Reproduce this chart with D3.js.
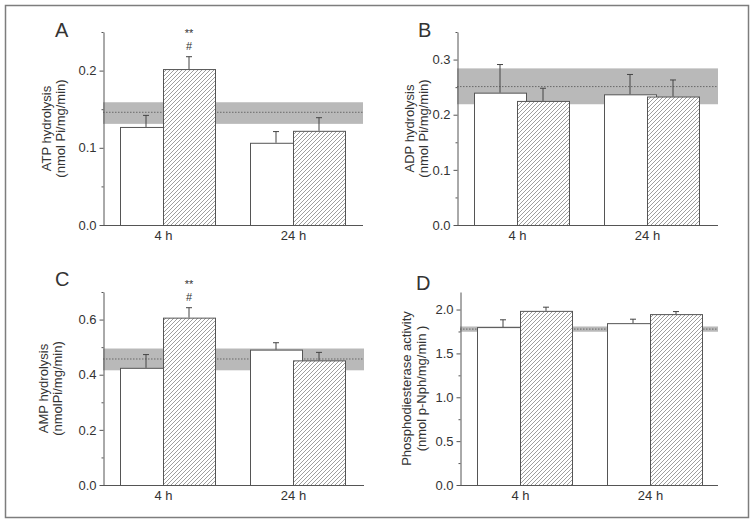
<!DOCTYPE html>
<html><head><meta charset="utf-8">
<script src="https://cdn.jsdelivr.net/npm/d3@7"></script>
<style>
html,body{margin:0;padding:0;background:#fff;}
text{font-family:"Liberation Sans",Arial,sans-serif;fill:#333;}
</style></head>
<body>
<svg id="chart" width="756" height="526"></svg>
<script>
// ---- data ----
const groups = ["4 h", "24 h"];

const atpControl = [0.127, 0.1065];
const atpControlErr = [0.015, 0.0145];
const atpTreated = [0.202, 0.122];
const atpTreatedErr = [0.016, 0.017];
const atpBasal = [0.131, 0.146, 0.159];   // low, mean, high

const adpControl = [0.240, 0.237];
const adpControlErr = [0.051, 0.036];
const adpTreated = [0.225, 0.233];
const adpTreatedErr = [0.023, 0.030];
const adpBasal = [0.219, 0.251, 0.284];

const ampControl = [0.425, 0.491];
const ampControlErr = [0.048, 0.025];
const ampTreated = [0.607, 0.452];
const ampTreatedErr = [0.036, 0.029];
const ampBasal = [0.416, 0.457, 0.495];

const pdeControl = [1.80, 1.845];
const pdeControlErr = [0.083, 0.045];
const pdeTreated = [1.985, 1.948];
const pdeTreatedErr = [0.042, 0.029];
const pdeBasal = [1.747, 1.777, 1.807];

const atpTicks = [0, 0.1, 0.2];
const adpTicks = [0, 0.1, 0.2, 0.3];
const ampTicks = [0, 0.2, 0.4, 0.6];
const pdeTicks = [0, 0.5, 1.0, 1.5, 2.0];

const atpMinor = [0.05, 0.15, 0.25];
const adpMinor = [0.05, 0.15, 0.25, 0.35];
const ampMinor = [0.1, 0.3, 0.5, 0.7];
const pdeMinor = [0.25, 0.75, 1.25, 1.75];

const atpSig = ["**", ""], atpSig2 = ["#", ""];
const ampSig = ["**", ""], ampSig2 = ["#", ""];
const noSig = ["", ""];

const panels = [
  {letter:"A", x0:103, xEnd:363, top:32, bottom:225, max:0.25,
   ctrl:atpControl, ctrlErr:atpControlErr, trt:atpTreated, trtErr:atpTreatedErr,
   basal:atpBasal, ticks:atpTicks, minor:atpMinor, sig:atpSig, sig2:atpSig2,
   label:["ATP hydrolysis","(nmol Pi/mg/min)"], lab1:51, lab2:65, letterX:55, letterY:37},
  {letter:"B", x0:457, xEnd:718, top:32, bottom:225, max:0.35,
   ctrl:adpControl, ctrlErr:adpControlErr, trt:adpTreated, trtErr:adpTreatedErr,
   basal:adpBasal, ticks:adpTicks, minor:adpMinor, sig:noSig, sig2:noSig,
   label:["ADP hydrolysis","(nmol Pi/mg/min)"], lab1:414, lab2:428, letterX:418, letterY:37},
  {letter:"C", x0:103, xEnd:364, top:292, bottom:485, max:0.70,
   ctrl:ampControl, ctrlErr:ampControlErr, trt:ampTreated, trtErr:ampTreatedErr,
   basal:ampBasal, ticks:ampTicks, minor:ampMinor, sig:ampSig, sig2:ampSig2,
   label:["AMP hydrolysis","(nmolPi/mg/min)"], lab1:48, lab2:62, letterX:55, letterY:286},
  {letter:"D", x0:460, xEnd:718, top:292, bottom:485, max:2.2,
   ctrl:pdeControl, ctrlErr:pdeControlErr, trt:pdeTreated, trtErr:pdeTreatedErr,
   basal:pdeBasal, ticks:pdeTicks, minor:pdeMinor, sig:noSig, sig2:noSig,
   label:["Phosphodiesterase activity","(nmol p-Nph/mg/min )"], lab1:411, lab2:426, letterX:416, letterY:290}
];

const svg = d3.select("#chart");
const defs = svg.append("defs");
const pat = defs.append("pattern").attr("id","hatch")
  .attr("patternUnits","userSpaceOnUse").attr("width",4).attr("height",4);
pat.append("rect").attr("width",4).attr("height",4).attr("fill","#fff");
pat.append("path").attr("d","M-1,1 l2,-2 M0,4 l4,-4 M3,5 l2,-2")
  .attr("stroke","#8c8c8c").attr("stroke-width",0.85);

// frame
svg.append("rect").attr("x",5.5).attr("y",5.5).attr("width",743).attr("height",512)
  .attr("fill","#fff").attr("stroke","#7d7d7d").attr("stroke-width",1.5);

const barW = 52, ctrlOff = -43;

panels.forEach(p => {
  const g = svg.append("g");
  const y = d3.scaleLinear().domain([0, p.max]).range([p.bottom, p.top]);
  const x = d3.scalePoint().domain(groups).range([p.x0 + 60, p.x0 + 190]);

  // basal band
  g.append("rect").attr("x", p.x0).attr("width", p.xEnd - p.x0)
    .attr("y", y(p.basal[2])).attr("height", y(p.basal[0]) - y(p.basal[2]))
    .attr("fill", "#b9b9b9");
  g.append("line").attr("x1", p.x0).attr("x2", p.xEnd)
    .attr("y1", y(p.basal[1])).attr("y2", y(p.basal[1]))
    .attr("stroke", "#555").attr("stroke-width", 0.8).attr("stroke-dasharray", "1.5,1.5");

  const errCap = 3;
  const drawSeries = (vals, errs, off, fill) => {
    const gg = g.append("g");
    gg.selectAll("line.err").data(groups).join("line")
      .attr("x1", d => x(d) + off + barW/2).attr("x2", d => x(d) + off + barW/2)
      .attr("y1", (d,i) => y(vals[i])).attr("y2", (d,i) => y(vals[i] + errs[i]))
      .attr("stroke", "#444").attr("stroke-width", 1);
    gg.selectAll("line.cap").data(groups).join("line")
      .attr("x1", d => x(d) + off + barW/2 - errCap).attr("x2", d => x(d) + off + barW/2 + errCap)
      .attr("y1", (d,i) => y(vals[i] + errs[i])).attr("y2", (d,i) => y(vals[i] + errs[i]))
      .attr("stroke", "#444").attr("stroke-width", 1);
    gg.selectAll("rect").data(groups).join("rect")
      .attr("x", d => x(d) + off + 0.5).attr("width", barW)
      .attr("y", (d,i) => y(vals[i]) + 0.5).attr("height", (d,i) => y(0) - y(vals[i]))
      .attr("fill", fill).attr("stroke", "#555").attr("stroke-width", 1);
  };
  drawSeries(p.ctrl, p.ctrlErr, ctrlOff, "#fff");
  drawSeries(p.trt, p.trtErr, 0, "url(#hatch)");

  // significance marks
  groups.forEach((d, i) => {
    if (!p.sig[i] && !p.sig2[i]) return;
    const cx = x(d) + barW/2;
    const base = y(p.trt[i] + p.trtErr[i]);
    g.append("text").attr("text-anchor","middle").attr("font-size",11)
      .attr("x", cx).attr("y", base - 20).text(p.sig[i]);
    g.append("text").attr("text-anchor","middle").attr("font-size",11)
      .attr("x", cx).attr("y", base - 7).text(p.sig2[i]);
  });

  // y axis
  const ya = g.append("g").attr("transform", `translate(${p.x0 + 0.5},0)`)
    .call(d3.axisLeft(y).tickValues(p.ticks).tickFormat(d3.format(".1f"))
      .tickSize(4).tickPadding(3).tickSizeOuter(0));
  ya.select(".domain").attr("stroke","#555");
  ya.selectAll(".tick line").attr("stroke","#555");
  ya.selectAll(".tick text").attr("font-size",13).attr("font-family","Liberation Sans, Arial, sans-serif").attr("fill","#333");
  const ym = g.append("g").attr("transform", `translate(${p.x0 + 0.5},0)`)
    .call(d3.axisLeft(y).tickValues(p.minor).tickFormat("").tickSize(2).tickSizeOuter(0));
  ym.select(".domain").remove();
  ym.selectAll(".tick line").attr("stroke","#555");

  // x axis
  const xa = g.append("g").attr("transform", `translate(0,${p.bottom + 0.5})`)
    .call(d3.axisBottom(x).tickSize(0).tickPadding(5));
  xa.select(".domain").remove();
  xa.selectAll(".tick text").attr("font-size",13).attr("font-family","Liberation Sans, Arial, sans-serif").attr("fill","#333");
  g.append("line").attr("x1", p.x0).attr("x2", p.xEnd)
    .attr("y1", p.bottom + 0.5).attr("y2", p.bottom + 0.5).attr("stroke","#555");

  // y label
  const cy = (p.top + p.bottom) / 2;
  [p.lab1, p.lab2].forEach((lx, i) => {
    g.append("text").attr("transform", `translate(${lx},${cy}) rotate(-90)`)
      .attr("text-anchor","middle").attr("font-size",13).text(p.label[i]);
  });

  // panel letter
  g.append("text").attr("x", p.letterX).attr("y", p.letterY)
    .attr("font-size",20).text(p.letter);
});
</script>
</body></html>
